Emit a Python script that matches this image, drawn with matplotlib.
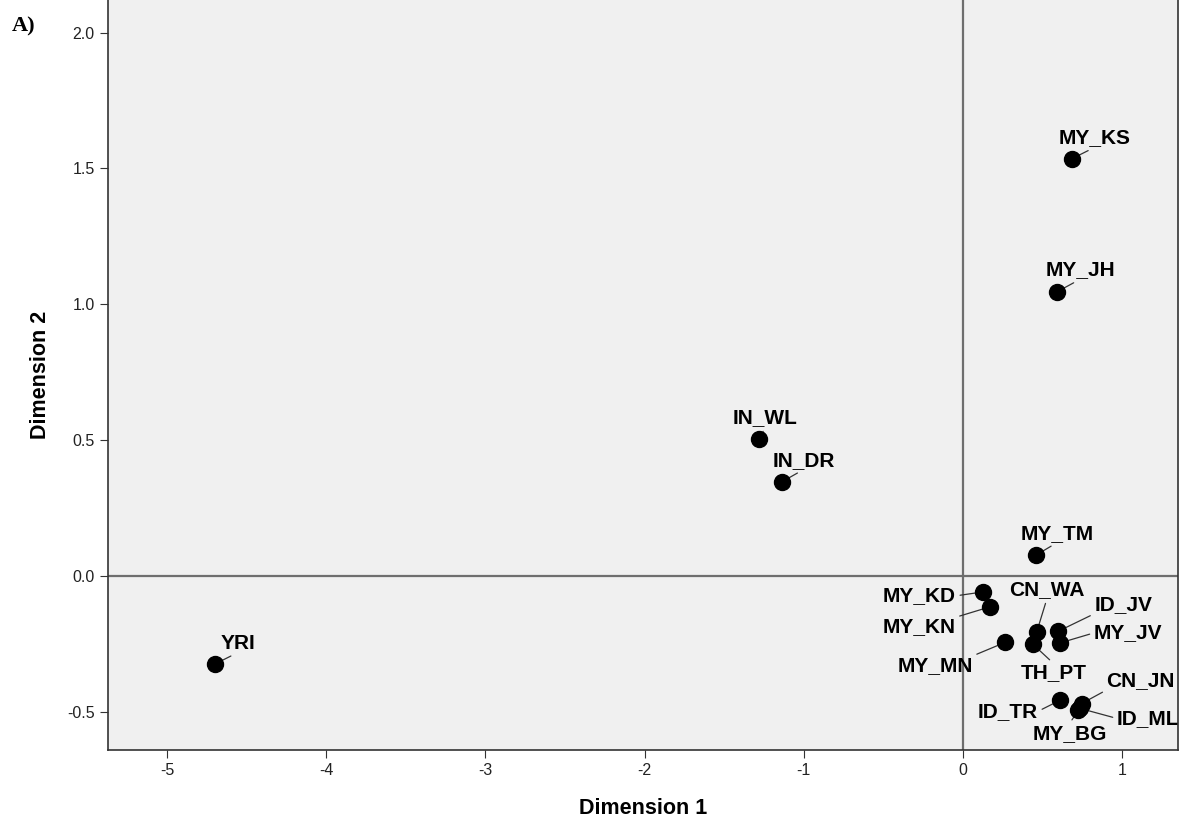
import matplotlib
matplotlib.use("Agg")
import matplotlib.pyplot as plt

plt.rcParams['font.family'] = ['Liberation Sans', 'DejaVu Sans']
plt.rcParams['axes.unicode_minus'] = False

# population coordinates (Dimension 1, Dimension 2)
names = ['YRI', 'IN_WL', 'IN_DR', 'MY_KS', 'MY_JH', 'MY_TM', 'MY_KD', 'MY_KN',
         'CN_WA', 'ID_JV', 'MY_JV', 'MY_MN', 'TH_PT', 'ID_TR', 'CN_JN', 'ID_ML', 'MY_BG']
dim1 = [-4.70, -1.28, -1.14, 0.684, 0.59, 0.458, 0.128, 0.17,
        0.463, 0.598, 0.609, 0.264, 0.437, 0.609, 0.745, 0.735, 0.724]
dim2 = [-0.324, 0.505, 0.346, 1.536, 1.046, 0.077, -0.058, -0.113,
        -0.205, -0.203, -0.246, -0.244, -0.25, -0.457, -0.469, -0.487, -0.494]

# label offsets from the point (pixels, x right / y up)
lab_dx = [23, 6, 22, 23, 23, 21, -64, -71, 10, 65, 68, -70, 21, -52, 59, 68, -9]
lab_dy = [21, 21, 22, 21, 22, 22, -4, -20, 42, 27, 10, -23, -29, -11, 23, -10, -23]

fig = plt.figure(figsize=(11.92, 8.26), dpi=100)
ax = fig.add_axes([108 / 1192, 76 / 826, 1070 / 1192, 750 / 826])
ax.set_facecolor('#f0f0f0')

ax.axhline(0, color='#6e6e6e', lw=1.6, zorder=1)
ax.axvline(0, color='#6e6e6e', lw=1.6, zorder=1)

ax.plot(dim1, dim2, 'o', color='black', ms=11.5, zorder=3)

for n, x, y, dx, dy in zip(names, dim1, dim2, lab_dx, lab_dy):
    rx = 0.0 if dx > 30 else (1.0 if dx < -30 else 0.5)
    ry = 0.0 if dy > 12 else (1.0 if dy < -12 else 0.5)
    ax.annotate(n, (x, y), xytext=(dx, dy), textcoords='offset pixels',
                ha='center', va='center', fontsize=15, fontweight='bold',
                arrowprops=dict(arrowstyle='-', color='#333333', lw=0.9,
                                shrinkA=1, shrinkB=0, relpos=(rx, ry)),
                zorder=2)

ax.set_xlim(-5.37, 1.35)
ax.set_ylim(-0.64, 2.12)
ax.set_xticks([-5, -4, -3, -2, -1, 0, 1])
ax.set_yticks([-0.5, 0.0, 0.5, 1.0, 1.5, 2.0])
ax.set_yticklabels(['-0.5', '0.0', '0.5', '1.0', '1.5', '2.0'])
ax.tick_params(labelsize=11.5, length=6, color='#333333', labelcolor='#222222')

for s in ['left', 'bottom', 'right']:
    ax.spines[s].set_color('#333333')
    ax.spines[s].set_linewidth(1.2)
ax.spines['top'].set_visible(False)

ax.set_xlabel('Dimension 1', fontsize=15.5, fontweight='bold', labelpad=14)
ax.set_ylabel('Dimension 2', fontsize=15.5, fontweight='bold', labelpad=12)

fig.text(12 / 1192, 1 - 26 / 826, 'A)', fontsize=16, fontweight='bold',
         family='Liberation Serif', va='center', ha='left')

fig.savefig('out.png', dpi=100)
